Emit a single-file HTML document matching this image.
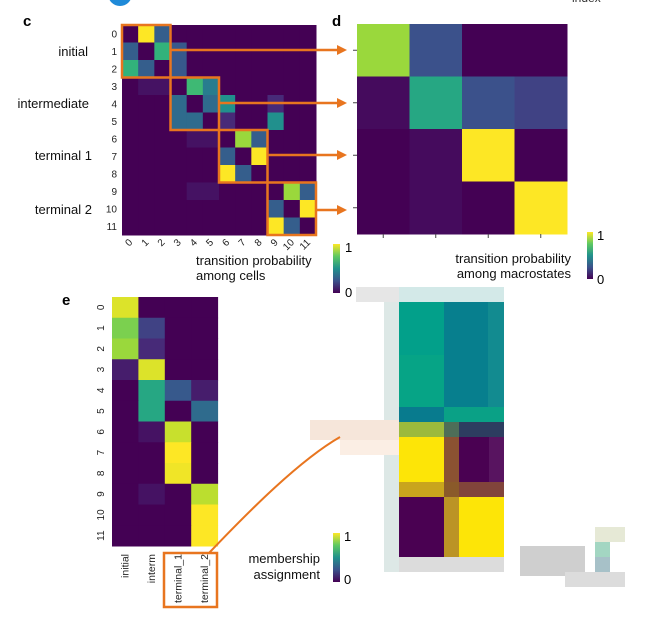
<!DOCTYPE html>
<html><head><meta charset="utf-8"><style>
html,body{margin:0;padding:0;background:#fff;}
svg{display:block;font-family:"Liberation Sans",sans-serif;}
</style></head><body>
<svg id="fig" width="660" height="621" viewBox="0 0 660 621" xmlns="http://www.w3.org/2000/svg">
<defs>
<linearGradient id="vir" x1="0" y1="1" x2="0" y2="0">
<stop offset="0" stop-color="#440154"/><stop offset="0.25" stop-color="#3b528b"/><stop offset="0.5" stop-color="#21918c"/><stop offset="0.75" stop-color="#5ec962"/><stop offset="1" stop-color="#fde725"/>
</linearGradient>
</defs>
<circle cx="120" cy="-6" r="12" fill="#1f8ad8"/>
<text x="572" y="2" font-size="12" fill="#333">index</text>
<text x="23" y="26" font-size="15" font-weight="bold">c</text>
<text x="332" y="26" font-size="15" font-weight="bold">d</text>
<text x="62" y="305" font-size="15" font-weight="bold">e</text>
<g id="gc"></g>
<g id="gd"></g>
<g id="ge"></g>
<g id="blob"></g>
<g font-size="13" fill="#111" text-anchor="end">
<text x="88" y="56">initial</text>
<text x="89" y="108">intermediate</text>
<text x="92" y="160">terminal 1</text>
<text x="92" y="214">terminal 2</text>
</g>
<g font-size="13" fill="#111">
<text x="196" y="265">transition probability</text>
<text x="196" y="280">among cells</text>
<text x="571" y="263" text-anchor="end">transition probability</text>
<text x="571" y="278" text-anchor="end">among macrostates</text>
<text x="320" y="563" text-anchor="end">membership</text>
<text x="320" y="579" text-anchor="end">assignment</text>
</g>
<g>
<rect x="333" y="244" width="7" height="49" fill="url(#vir)"/>
<text x="345" y="252" font-size="13">1</text><text x="345" y="297" font-size="13">0</text></g>
<g>
<rect x="587" y="232" width="6" height="47" fill="url(#vir)"/>
<text x="597" y="240" font-size="13">1</text><text x="597" y="284" font-size="13">0</text></g>
<g>
<rect x="333" y="533" width="7" height="49" fill="url(#vir)"/>
<text x="344" y="541" font-size="13">1</text><text x="344" y="584" font-size="13">0</text></g>
<g id="ov"></g>
</svg>
<script>
const cellLabels=['0','1','2','3','4','5','6','7','8','9','10','11'];
const cellMatrix=[
[0,1,0.3,0,0,0,0,0,0,0,0,0],
[0.3,0,0.65,0.28,0,0,0,0,0,0,0,0],
[0.65,0.3,0,0.28,0,0,0,0,0,0,0,0],
[0,0.05,0.05,0,0.68,0.42,0,0,0,0,0,0],
[0,0,0,0.35,0,0.35,0.5,0,0,0.12,0,0],
[0,0,0,0.35,0.35,0,0.12,0,0,0.5,0,0],
[0,0,0,0,0.05,0.05,0,0.85,0.3,0,0,0],
[0,0,0,0,0,0,0.3,0,1,0,0,0],
[0,0,0,0,0,0,1,0.3,0,0,0,0],
[0,0,0,0,0.05,0.05,0,0,0,0,0.85,0.3],
[0,0,0,0,0,0,0,0,0,0.3,0,1],
[0,0,0,0,0,0,0,0,0,1,0.3,0]];
const macroMatrix=[[0.85,0.25,0,0],[0.03,0.6,0.25,0.2],[0,0.03,1,0],[0,0.03,0,1]];
const macroLabels=['initial','interm','terminal_1','terminal_2'];
const memberMatrix=[
[0.95,0,0,0],[0.8,0.2,0,0],[0.85,0.12,0,0],[0.08,0.95,0,0],
[0,0.6,0.28,0.08],[0,0.6,0,0.35],[0,0.05,0.92,0],[0,0,1,0],
[0,0,0.98,0],[0,0.05,0,0.9],[0,0,0,1],[0,0,0,1]];
const blocks=[[0,3],[3,6],[6,9],[9,12]];

const NS='http://www.w3.org/2000/svg';
const V=[[68,1,84],[71,44,122],[59,81,139],[44,113,142],[33,144,141],[39,173,129],[92,200,99],[170,220,50],[253,231,37]];
function vir(t){t=Math.max(0,Math.min(1,t));const n=V.length-1,s=t*n,i=Math.min(n-1,Math.floor(s)),f=s-i;
const a=V[i],b=V[i+1];return 'rgb('+a.map((v,k)=>Math.round(v+(b[k]-v)*f)).join(',')+')';}
function mk(tag,at,parent){const e=document.createElementNS(NS,tag);for(const k in at)e.setAttribute(k,at[k]);parent.appendChild(e);return e;}

const gc=document.getElementById('gc');
const cx0=122,cy0=25,cw=194/12,ch=210/12;
const xc=i=>cx0+i*cw, yc=i=>cy0+i*ch;
cellMatrix.forEach((row,r)=>row.forEach((v,c)=>{
 const e=mk('rect',{x:xc(c),y:yc(r),width:cw+0.5,height:ch+0.5,fill:vir(v)},gc);
 
 
}));
cellLabels.forEach((l,i)=>{
 const t=mk('text',{x:117,y:yc(i)+ch/2+3.5,'font-size':10,'text-anchor':'end',fill:'#222'},gc);t.textContent=l;
 
 
 const u=mk('text',{x:0,y:0,'font-size':10,'text-anchor':'end',fill:'#222',transform:'translate('+(xc(i)+cw/2+3)+',243) rotate(-45)'},gc);u.textContent=l;
 
 
});
const ov=document.getElementById('ov');
const arrowY=[50,103,155,210];
blocks.forEach((b,i)=>{
 const r=mk('rect',{x:xc(b[0]),y:yc(b[0]),width:xc(b[1])-xc(b[0]),height:yc(b[1])-yc(b[0]),fill:'none',stroke:'#e8751f','stroke-width':2.5},ov);
 
 
 const l=mk('line',{x1:xc(b[1]),y1:arrowY[i],x2:338,y2:arrowY[i],stroke:'#e8751f','stroke-width':2.5},ov);
 
 
 const p=mk('polygon',{points:'337,'+(arrowY[i]-5)+' 347,'+arrowY[i]+' 337,'+(arrowY[i]+5),fill:'#e8751f'},ov);
 
 
});

const gd=document.getElementById('gd');
const dx0=357,dy0=24,ds=52.5;
macroMatrix.forEach((row,r)=>row.forEach((v,c)=>{
 const e=mk('rect',{x:dx0+c*ds,y:dy0+r*ds,width:ds+0.5,height:ds+0.5,fill:vir(v)},gd);
 
 
}));
for(let i=0;i<4;i++){
 mk('line',{x1:dx0-4,x2:dx0,y1:dy0+i*ds+ds/2,y2:dy0+i*ds+ds/2,stroke:'#444'},gd);
 mk('line',{y1:dy0+4*ds,y2:dy0+4*ds+4,x1:dx0+i*ds+ds/2,x2:dx0+i*ds+ds/2,stroke:'#444'},gd);
}

const ge=document.getElementById('ge');
const ex0=112,ey0=297,ew=105.6/4,eh=249/12;
memberMatrix.forEach((row,r)=>row.forEach((v,c)=>{
 const e=mk('rect',{x:ex0+c*ew,y:ey0+r*eh,width:ew+0.5,height:eh+0.5,fill:vir(v)},ge);
 
 
}));
cellLabels.forEach((l,i)=>{
 const t=mk('text',{x:0,y:0,'font-size':10,'text-anchor':'middle',fill:'#222',transform:'translate(104,'+(ey0+i*eh+eh/2)+') rotate(-90)'},ge);t.textContent=l;
 
 
});
macroLabels.forEach((l,i)=>{
 const t=mk('text',{x:0,y:0,'font-size':10.5,'text-anchor':'end',fill:'#222',transform:'translate('+(ex0+i*ew+ew/2+3.5)+',554) rotate(-90)'},ge);t.textContent=l;
 
 
});
const eb=mk('rect',{x:164,y:553,width:53,height:54,fill:'none',stroke:'#e8751f','stroke-width':2.5},ov);


const cv=mk('path',{d:'M209,553 C250,510 300,460 340,437',fill:'none',stroke:'#e8751f','stroke-width':2},ov);



const bl=document.getElementById('blob');
const rects=[
[356,287,44,15,'#e6e6e6'],[384,302,16,270,'#dde8e6'],[310,420,90,20,'#f6e6da'],[340,440,60,15,'#fbeee4'],
[399,287,105,15,'#d3e9e8'],
[399,302,45,105,'#02a08a'],[444,302,60,105,'#077f8e'],[488,302,16,105,'#128b90'],
[399,355,45,52,'#06a486'],
[399,407,45,15,'#087b8e'],[444,407,60,15,'#0aa186'],
[399,422,45,15,'#9cba3c'],[444,422,15,15,'#4e6e58'],[459,422,45,15,'#2d3d60'],
[399,437,45,45,'#fde507'],[444,437,15,45,'#8b5232'],[459,437,45,45,'#4a0152'],[489,437,15,45,'#581460'],
[399,482,45,15,'#c9a51d'],[444,482,15,15,'#8a5a2a'],[459,482,45,15,'#81443b'],
[399,497,45,60,'#4a0152'],[444,497,15,60,'#bb9425'],[459,497,45,60,'#fde507'],
[399,557,105,15,'#dcdcdc'],
[520,546,65,30,'#cfcfcf'],[595,527,30,15,'#e6e9d6'],[595,542,15,15,'#a3d6c2'],[595,557,15,15,'#a7c1c8'],[595,572,15,15,'#c5bfd5'],[565,572,60,15,'#dcdcdc']];
rects.forEach((q,i)=>{
 const e=mk('rect',{x:q[0],y:q[1],width:q[2],height:q[3],fill:q[4]},bl);
 
 
});
</script>
</body></html>
